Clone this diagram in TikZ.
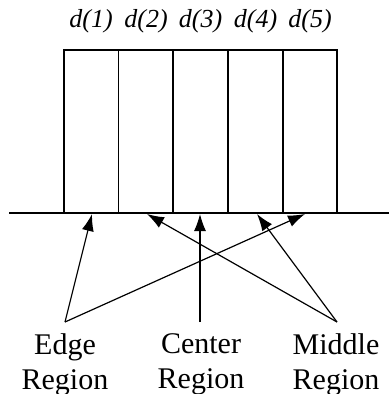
\documentclass[tikz,border=0pt]{standalone}
\usepackage{fontspec}
\setmainfont{Liberation Serif}
\usetikzlibrary{arrows.meta}
\tikzset{
  dlab/.style={font=\fontsize{26}{30}\selectfont\itshape, inner sep=0pt, anchor=base},
  reglab/.style={font=\fontsize{30}{35}\selectfont, align=center, inner sep=0pt, anchor=north},
  ln/.style={line width=1.3pt, draw=black},
  arr/.style={line width=1.2pt, -{Latex[length=17pt,width=12pt]}}
}
\begin{document}
\begin{tikzpicture}[x=1pt,y=-1pt]
\useasboundingbox (0,0) rectangle (389,394);
% boxes
\draw[ln] (64,50) rectangle (337,213);
\foreach \xx in {118.5,173,228,283} \draw[ln] (\xx,50) -- (\xx,213);
\draw[ln] (9,213) -- (389,213);
% labels
\node[dlab] (d1) at (91,27) {d(1)};
\node[dlab] (d2) at (146,27) {d(2)};
\node[dlab] (d3) at (200.5,27) {d(3)};
\node[dlab] (d4) at (255.5,27) {d(4)};
\node[dlab] (d5) at (310,27) {d(5)};
\node[reglab] (edge) at (65,333) {Edge\\Region};
\node[reglab] (center) at (201,333) {Center\\Region};
\node[reglab] (middle) at (336,333) {Middle\\Region};
% arrow points
\coordinate (es) at (65,322);
\coordinate (cs) at (200,322);
\coordinate (ms) at (337,322);
\coordinate (t1) at (92,214);
\coordinate (t2) at (147,214);
\coordinate (t3) at (200,214);
\coordinate (t4) at (257,214);
\coordinate (t5) at (305,214);
\draw[arr] (es) -- (t1);
\draw[arr] (es) -- (t5);
\draw[arr] (cs) -- (t3);
\draw[arr] (ms) -- (t2);
\draw[arr] (ms) -- (t4);
\end{tikzpicture}
\end{document}
